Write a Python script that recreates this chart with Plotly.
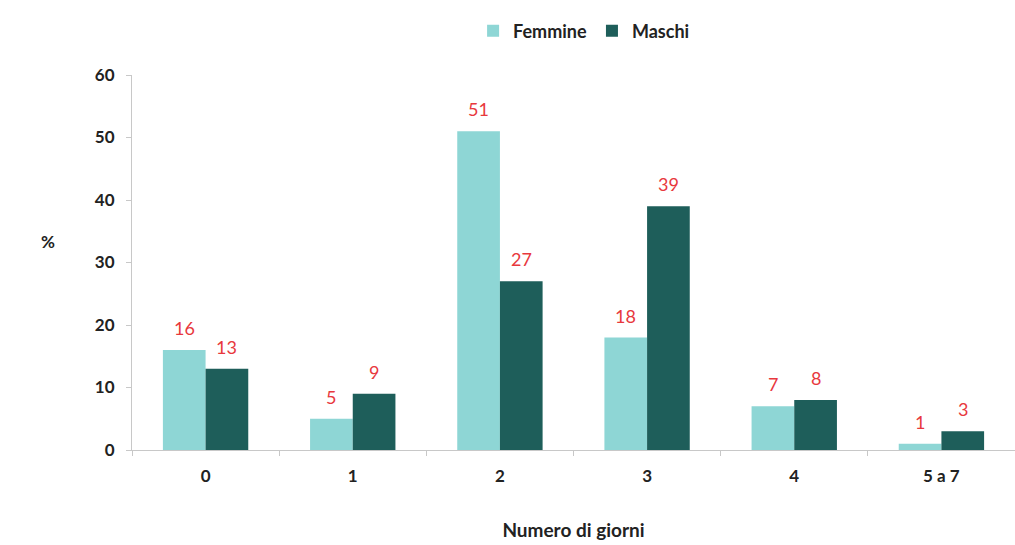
import plotly.graph_objects as go

# Percentuale per numero di giorni, per sesso
categorie = ["0", "1", "2", "3", "4", "5 a 7"]
femmine = [16, 5, 51, 18, 7, 1]
maschi = [13, 9, 27, 39, 8, 3]

col_femmine = "#8ED6D5"
col_maschi = "#1E5E5A"
col_etichette = "#E8383D"
col_testo = "#222222"
font_base = "Lato, 'Open Sans', sans-serif"

serie = [("Femmine", femmine, col_femmine, -1), ("Maschi", maschi, col_maschi, 1)]

# geometria del grafico (pixel)
W, H = 1015, 545
ML, MR, MT, MB = 132, 0, 75, 95
BARGAP = 0.42
larghezza_cat = (W - ML - MR) / len(categorie)
larghezza_barra = larghezza_cat * (1 - BARGAP) / 2

fig = go.Figure()
for nome, valori, colore, _ in serie:
    fig.add_trace(go.Bar(
        name=f"<b>{nome}</b>",
        x=categorie,
        y=valori,
        marker=dict(color=colore, line=dict(width=0)),
    ))

# etichette dei valori sopra le barre
for nome, valori, colore, lato in serie:
    for cat, v in zip(categorie, valori):
        fig.add_annotation(
            x=cat, y=v, xref="x", yref="y",
            text=str(v),
            showarrow=False,
            xshift=lato * larghezza_barra / 2,
            yanchor="bottom",
            yshift=9,
            font=dict(color=col_etichette, size=18, family=font_base),
        )

fig.update_layout(
    width=W,
    height=H,
    margin=dict(l=ML, r=MR, t=MT, b=MB),
    paper_bgcolor="white",
    plot_bgcolor="white",
    barmode="group",
    bargap=BARGAP,
    bargroupgap=0,
    font=dict(family=font_base, color=col_testo),
    legend=dict(
        orientation="h",
        x=0.512, xanchor="center",
        y=1.117, yanchor="middle",
        font=dict(size=18, family=font_base, color=col_testo),
        traceorder="normal",
    ),
    showlegend=True,
)

fig.update_xaxes(
    type="category",
    showline=True,
    linecolor="#C8C8C8",
    linewidth=1,
    ticks="outside",
    tickson="boundaries",
    ticklen=5,
    tickcolor="#C8C8C8",
    ticklabelstandoff=11,
    tickfont=dict(size=17, family=font_base, weight="bold", color=col_testo),
    showgrid=False,
    title=dict(text="Numero di giorni", font=dict(size=19, family=font_base, weight="bold", color=col_testo), standoff=38),
)

fig.update_yaxes(
    range=[0, 60],
    dtick=10,
    showline=True,
    linecolor="#C8C8C8",
    linewidth=1,
    ticks="outside",
    ticklen=5,
    tickcolor="#C8C8C8",
    ticklabelstandoff=8,
    tickfont=dict(size=17, family=font_base, weight="bold", color=col_testo),
    showgrid=False,
    zeroline=False,
    title=None,
)

# titolo dell'asse verticale, orizzontale a sinistra
fig.add_annotation(
    text="%",
    xref="paper", yref="paper",
    x=(39 - ML) / (W - ML - MR),
    y=(H - MB - 241) / (H - MB - MT),
    showarrow=False,
    font=dict(size=17, family=font_base, weight="bold", color=col_testo),
)

fig.write_html("out.html")
